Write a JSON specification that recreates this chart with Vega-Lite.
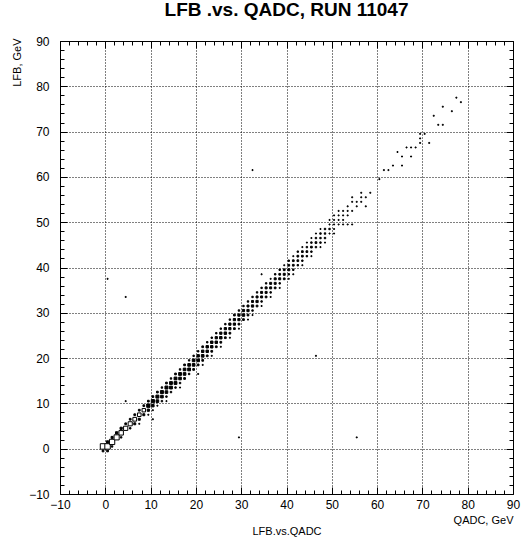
{
  "$schema": "https://vega.github.io/schema/vega-lite/v6.json",
  "width": 453,
  "height": 453,
  "autosize": {"type": "none"},
  "padding": {"left": 60, "top": 41, "right": 9, "bottom": 47},
  "background": "white",
  "title": {"text": "LFB .vs. QADC, RUN 11047", "font": "Liberation Sans", "fontSize": 19, "fontWeight": "bold", "color": "black", "anchor": "middle", "baseline": "alphabetic", "offset": 0},
  "config": {
    "view": {"stroke": null},
    "axis": {
      "domainColor": "black",
      "domainWidth": 1,
      "tickColor": "black",
      "tickWidth": 1,
      "labelFont": "Liberation Sans",
      "labelFontSize": 12,
      "labelColor": "black",
      "titleFont": "Liberation Sans",
      "titleFontSize": 11,
      "titleFontWeight": "normal",
      "titleColor": "black",
      "labelFlush": false,
      "labelOverlap": false
    }
  },
  "data": {"values": [
    {"q":-0.5,"l":-0.5,"n":3},{"q":0.5,"l":-0.5,"n":3},
    {"q":-0.5,"l":0.5,"n":30},{"q":0.5,"l":0.5,"n":30},{"q":1.5,"l":0.5,"n":2},
    {"q":0.5,"l":1.5,"n":5},{"q":1.5,"l":1.5,"n":28},
    {"q":1.5,"l":2.5,"n":4},{"q":2.5,"l":2.5,"n":26},{"q":3.5,"l":2.5,"n":2},
    {"q":2.5,"l":3.5,"n":5},{"q":3.5,"l":3.5,"n":20},
    {"q":3.5,"l":4.5,"n":5},{"q":4.5,"l":4.5,"n":18},{"q":5.5,"l":4.5,"n":2},
    {"q":4.5,"l":5.5,"n":3},{"q":5.5,"l":5.5,"n":17},{"q":6.5,"l":5.5,"n":4},{"q":7.5,"l":5.5,"n":1},
    {"q":5.5,"l":6.5,"n":3},{"q":6.5,"l":6.5,"n":14},{"q":7.5,"l":6.5,"n":4},
    {"q":6.5,"l":7.5,"n":3},{"q":7.5,"l":7.5,"n":13},{"q":8.5,"l":7.5,"n":4},{"q":9.5,"l":7.5,"n":1},
    {"q":7.5,"l":8.5,"n":3},{"q":8.5,"l":8.5,"n":12},{"q":9.5,"l":8.5,"n":5},{"q":10.5,"l":8.5,"n":1},
    {"q":8.5,"l":9.5,"n":3},{"q":9.5,"l":9.5,"n":11},{"q":10.5,"l":9.5,"n":6},{"q":11.5,"l":9.5,"n":1},
    {"q":9.5,"l":10.5,"n":3},{"q":10.5,"l":10.5,"n":10},{"q":11.5,"l":10.5,"n":7},{"q":12.5,"l":10.5,"n":2},{"q":13.5,"l":10.5,"n":1},
    {"q":10.5,"l":11.5,"n":3},{"q":11.5,"l":11.5,"n":9},{"q":12.5,"l":11.5,"n":7},{"q":13.5,"l":11.5,"n":2},
    {"q":11.5,"l":12.5,"n":3},{"q":12.5,"l":12.5,"n":9},{"q":13.5,"l":12.5,"n":7},{"q":14.5,"l":12.5,"n":2},
    {"q":12.5,"l":13.5,"n":2},{"q":13.5,"l":13.5,"n":9},{"q":14.5,"l":13.5,"n":8},{"q":15.5,"l":13.5,"n":2},{"q":16.5,"l":13.5,"n":1},
    {"q":13.5,"l":14.5,"n":3},{"q":14.5,"l":14.5,"n":8},{"q":15.5,"l":14.5,"n":8},{"q":16.5,"l":14.5,"n":2},
    {"q":14.5,"l":15.5,"n":2},{"q":15.5,"l":15.5,"n":8},{"q":16.5,"l":15.5,"n":7},{"q":17.5,"l":15.5,"n":3},
    {"q":15.5,"l":16.5,"n":3},{"q":16.5,"l":16.5,"n":8},{"q":17.5,"l":16.5,"n":7},{"q":18.5,"l":16.5,"n":2},
    {"q":16.5,"l":17.5,"n":2},{"q":17.5,"l":17.5,"n":7},{"q":18.5,"l":17.5,"n":8},{"q":19.5,"l":17.5,"n":3},
    {"q":17.5,"l":18.5,"n":3},{"q":18.5,"l":18.5,"n":7},{"q":19.5,"l":18.5,"n":7},{"q":20.5,"l":18.5,"n":3},{"q":21.5,"l":18.5,"n":1},
    {"q":18.5,"l":19.5,"n":2},{"q":19.5,"l":19.5,"n":7},{"q":20.5,"l":19.5,"n":7},{"q":21.5,"l":19.5,"n":3},
    {"q":19.5,"l":20.5,"n":2},{"q":20.5,"l":20.5,"n":6},{"q":21.5,"l":20.5,"n":7},{"q":22.5,"l":20.5,"n":3},{"q":23.5,"l":20.5,"n":1},
    {"q":20.5,"l":21.5,"n":2},{"q":21.5,"l":21.5,"n":6},{"q":22.5,"l":21.5,"n":6},{"q":23.5,"l":21.5,"n":3},
    {"q":21.5,"l":22.5,"n":3},{"q":22.5,"l":22.5,"n":6},{"q":23.5,"l":22.5,"n":6},{"q":24.5,"l":22.5,"n":3},{"q":25.5,"l":22.5,"n":1},
    {"q":22.5,"l":23.5,"n":2},{"q":23.5,"l":23.5,"n":6},{"q":24.5,"l":23.5,"n":6},{"q":25.5,"l":23.5,"n":3},
    {"q":23.5,"l":24.5,"n":2},{"q":24.5,"l":24.5,"n":5},{"q":25.5,"l":24.5,"n":6},{"q":26.5,"l":24.5,"n":3},{"q":27.5,"l":24.5,"n":1},
    {"q":24.5,"l":25.5,"n":2},{"q":25.5,"l":25.5,"n":5},{"q":26.5,"l":25.5,"n":6},{"q":27.5,"l":25.5,"n":3},
    {"q":25.5,"l":26.5,"n":2},{"q":26.5,"l":26.5,"n":5},{"q":27.5,"l":26.5,"n":5},{"q":28.5,"l":26.5,"n":3},{"q":29.5,"l":26.5,"n":1},
    {"q":26.5,"l":27.5,"n":2},{"q":27.5,"l":27.5,"n":5},{"q":28.5,"l":27.5,"n":5},{"q":29.5,"l":27.5,"n":3},
    {"q":27.5,"l":28.5,"n":2},{"q":28.5,"l":28.5,"n":5},{"q":29.5,"l":28.5,"n":5},{"q":30.5,"l":28.5,"n":3},{"q":31.5,"l":28.5,"n":1},
    {"q":28.5,"l":29.5,"n":3},{"q":29.5,"l":29.5,"n":5},{"q":30.5,"l":29.5,"n":6},{"q":31.5,"l":29.5,"n":3},{"q":32.5,"l":29.5,"n":1},
    {"q":29.5,"l":30.5,"n":2},{"q":30.5,"l":30.5,"n":5},{"q":31.5,"l":30.5,"n":5},{"q":32.5,"l":30.5,"n":2},
    {"q":30.5,"l":31.5,"n":2},{"q":31.5,"l":31.5,"n":4},{"q":32.5,"l":31.5,"n":5},{"q":33.5,"l":31.5,"n":3},{"q":34.5,"l":31.5,"n":1},
    {"q":31.5,"l":32.5,"n":2},{"q":32.5,"l":32.5,"n":4},{"q":33.5,"l":32.5,"n":5},{"q":34.5,"l":32.5,"n":2},
    {"q":32.5,"l":33.5,"n":2},{"q":33.5,"l":33.5,"n":4},{"q":34.5,"l":33.5,"n":4},{"q":35.5,"l":33.5,"n":3},{"q":36.5,"l":33.5,"n":1},
    {"q":33.5,"l":34.5,"n":2},{"q":34.5,"l":34.5,"n":4},{"q":35.5,"l":34.5,"n":4},{"q":36.5,"l":34.5,"n":2},
    {"q":34.5,"l":35.5,"n":2},{"q":35.5,"l":35.5,"n":4},{"q":36.5,"l":35.5,"n":4},{"q":37.5,"l":35.5,"n":3},{"q":38.5,"l":35.5,"n":1},
    {"q":35.5,"l":36.5,"n":2},{"q":36.5,"l":36.5,"n":4},{"q":37.5,"l":36.5,"n":4},{"q":38.5,"l":36.5,"n":2},
    {"q":36.5,"l":37.5,"n":1},{"q":37.5,"l":37.5,"n":4},{"q":38.5,"l":37.5,"n":4},{"q":39.5,"l":37.5,"n":3},{"q":40.5,"l":37.5,"n":1},
    {"q":37.5,"l":38.5,"n":2},{"q":38.5,"l":38.5,"n":3},{"q":39.5,"l":38.5,"n":4},{"q":40.5,"l":38.5,"n":2},{"q":41.5,"l":38.5,"n":1},
    {"q":38.5,"l":39.5,"n":2},{"q":39.5,"l":39.5,"n":3},{"q":40.5,"l":39.5,"n":4},{"q":41.5,"l":39.5,"n":2},
    {"q":39.5,"l":40.5,"n":1},{"q":40.5,"l":40.5,"n":3},{"q":41.5,"l":40.5,"n":3},{"q":42.5,"l":40.5,"n":2},{"q":43.5,"l":40.5,"n":1},
    {"q":40.5,"l":41.5,"n":2},{"q":41.5,"l":41.5,"n":3},{"q":42.5,"l":41.5,"n":3},{"q":43.5,"l":41.5,"n":2},
    {"q":41.5,"l":42.5,"n":1},{"q":42.5,"l":42.5,"n":3},{"q":43.5,"l":42.5,"n":3},{"q":44.5,"l":42.5,"n":2},{"q":45.5,"l":42.5,"n":1},
    {"q":42.5,"l":43.5,"n":2},{"q":43.5,"l":43.5,"n":3},{"q":44.5,"l":43.5,"n":3},{"q":45.5,"l":43.5,"n":2},
    {"q":43.5,"l":44.5,"n":1},{"q":44.5,"l":44.5,"n":2},{"q":45.5,"l":44.5,"n":3},{"q":46.5,"l":44.5,"n":2},{"q":47.5,"l":44.5,"n":1},
    {"q":44.5,"l":45.5,"n":1},{"q":45.5,"l":45.5,"n":2},{"q":46.5,"l":45.5,"n":3},{"q":47.5,"l":45.5,"n":2},{"q":48.5,"l":45.5,"n":1},
    {"q":45.5,"l":46.5,"n":1},{"q":46.5,"l":46.5,"n":2},{"q":47.5,"l":46.5,"n":2},{"q":48.5,"l":46.5,"n":2},
    {"q":46.5,"l":47.5,"n":1},{"q":47.5,"l":47.5,"n":2},{"q":48.5,"l":47.5,"n":2},{"q":49.5,"l":47.5,"n":1},{"q":50.5,"l":47.5,"n":1},
    {"q":47.5,"l":48.5,"n":1},{"q":48.5,"l":48.5,"n":2},{"q":49.5,"l":48.5,"n":2},{"q":50.5,"l":48.5,"n":1},
    {"q":49.5,"l":49.5,"n":1},{"q":50.5,"l":49.5,"n":1},{"q":51.5,"l":49.5,"n":1},{"q":52.5,"l":49.5,"n":1},{"q":53.5,"l":49.5,"n":1},{"q":54.5,"l":49.5,"n":1},
    {"q":49.5,"l":50.5,"n":1},{"q":50.5,"l":50.5,"n":1},{"q":51.5,"l":50.5,"n":1},{"q":52.5,"l":50.5,"n":1},
    {"q":50.5,"l":51.5,"n":1},{"q":51.5,"l":51.5,"n":1},{"q":52.5,"l":51.5,"n":1},{"q":53.5,"l":51.5,"n":1},
    {"q":51.5,"l":52.5,"n":1},{"q":52.5,"l":52.5,"n":1},{"q":53.5,"l":52.5,"n":1},{"q":54.5,"l":52.5,"n":1},
    {"q":53.5,"l":53.5,"n":1},{"q":55.5,"l":53.5,"n":1},{"q":57.5,"l":53.5,"n":1},
    {"q":54.5,"l":54.5,"n":1},{"q":55.5,"l":54.5,"n":1},{"q":56.5,"l":54.5,"n":1},
    {"q":54.5,"l":55.5,"n":1},{"q":56.5,"l":55.5,"n":1},{"q":57.5,"l":55.5,"n":1},
    {"q":56.5,"l":56.5,"n":1},{"q":58.5,"l":56.5,"n":1},
    {"q":60.5,"l":59.5,"n":1},
    {"q":61.5,"l":61.5,"n":1},{"q":62.5,"l":61.5,"n":1},
    {"q":63.5,"l":62.5,"n":1},{"q":65.5,"l":62.5,"n":1},
    {"q":65.5,"l":64.5,"n":1},{"q":67.5,"l":64.5,"n":1},
    {"q":64.5,"l":65.5,"n":1},
    {"q":66.5,"l":66.5,"n":1},{"q":67.5,"l":66.5,"n":1},{"q":68.5,"l":66.5,"n":1},
    {"q":69.5,"l":67.5,"n":1},{"q":71.5,"l":67.5,"n":1},
    {"q":69.5,"l":68.5,"n":1},
    {"q":69.5,"l":69.5,"n":1},{"q":70.5,"l":69.5,"n":1},
    {"q":73.5,"l":71.5,"n":1},{"q":74.5,"l":71.5,"n":1},
    {"q":72.5,"l":73.5,"n":1},
    {"q":76.5,"l":74.5,"n":1},
    {"q":74.5,"l":75.5,"n":1},
    {"q":78.5,"l":76.5,"n":1},
    {"q":77.5,"l":77.5,"n":1},
    {"q":0.5,"l":37.5,"n":1},{"q":4.5,"l":33.5,"n":1},{"q":4.5,"l":10.5,"n":1},{"q":10.5,"l":6.5,"n":1},
    {"q":20.5,"l":16.5,"n":1},{"q":29.5,"l":2.5,"n":1},{"q":55.5,"l":2.5,"n":1},{"q":46.5,"l":20.5,"n":1},
    {"q":32.5,"l":61.5,"n":1},{"q":34.5,"l":38.5,"n":1}
  ]},
  "layer": [
    {
      "mark": {"type": "square", "stroke": "black", "strokeWidth": 1, "opacity": 1},
      "encoding": {
        "x": {"field": "q", "type": "quantitative",
          "scale": {"domain": [-10, 90], "nice": false, "zero": false},
          "axis": {"orient": "bottom",
            "values": [-10,-8,-6,-4,-2,0,2,4,6,8,10,12,14,16,18,20,22,24,26,28,30,32,34,36,38,40,42,44,46,48,50,52,54,56,58,60,62,64,66,68,70,72,74,76,78,80,82,84,86,88,90],
            "labelExpr": "datum.value % 10 === 0 ? datum.label : ''",
            "tickSize": {"condition": {"test": "datum.value % 10 === 0", "value": -7}, "value": -4},
            "grid": true, "gridColor": "black", "gridDash": [1, 2], "gridWidth": 1,
            "gridOpacity": {"condition": {"test": "datum.value % 10 === 0", "value": 1}, "value": 0},
            "labelPadding": 12,
            "title": "QADC, GeV", "titleAnchor": "end", "titleAlign": "right", "titleBaseline": "middle", "titleX": 453, "titleY": 26}},
        "y": {"field": "l", "type": "quantitative",
          "scale": {"domain": [-10, 90], "nice": false, "zero": false},
          "axis": {"orient": "left",
            "values": [-10,-8,-6,-4,-2,0,2,4,6,8,10,12,14,16,18,20,22,24,26,28,30,32,34,36,38,40,42,44,46,48,50,52,54,56,58,60,62,64,66,68,70,72,74,76,78,80,82,84,86,88,90],
            "labelExpr": "datum.value % 10 === 0 ? datum.label : ''",
            "tickSize": {"condition": {"test": "datum.value % 10 === 0", "value": -7}, "value": -4},
            "grid": true, "gridColor": "black", "gridDash": [1, 2], "gridWidth": 1,
            "gridOpacity": {"condition": {"test": "datum.value % 10 === 0", "value": 1}, "value": 0},
            "labelPadding": 18,
            "title": "LFB, GeV", "titleAnchor": "end", "titleAlign": "right", "titleBaseline": "middle", "titleAngle": -90, "titleX": -43, "titleY": -3}},
        "size": {"field": "n", "type": "quantitative", "scale": {"type": "linear", "domain": [1, 30], "range": [1, 30]}, "legend": null},
        "fill": {"condition": {"test": "datum.n >= 12", "value": "white"}, "value": "black"}
      }
    },
    {
      "mark": {"type": "point", "opacity": 0},
      "encoding": {
        "x": {"field": "q", "type": "quantitative",
          "axis": {"orient": "top",
            "values": [-10,-8,-6,-4,-2,0,2,4,6,8,10,12,14,16,18,20,22,24,26,28,30,32,34,36,38,40,42,44,46,48,50,52,54,56,58,60,62,64,66,68,70,72,74,76,78,80,82,84,86,88,90],
            "labels": false, "grid": false, "title": null,
            "tickSize": {"condition": {"test": "datum.value % 10 === 0", "value": -7}, "value": -4}}},
        "y": {"field": "l", "type": "quantitative",
          "axis": {"orient": "right",
            "values": [-10,-8,-6,-4,-2,0,2,4,6,8,10,12,14,16,18,20,22,24,26,28,30,32,34,36,38,40,42,44,46,48,50,52,54,56,58,60,62,64,66,68,70,72,74,76,78,80,82,84,86,88,90],
            "labels": false, "grid": false, "title": null,
            "tickSize": {"condition": {"test": "datum.value % 10 === 0", "value": -7}, "value": -4}}}
      }
    },
    {
      "mark": {"type": "point", "opacity": 0},
      "encoding": {
        "x": {"field": "q", "type": "quantitative",
          "axis": {"orient": "bottom", "domain": false, "ticks": false, "labels": false, "grid": false,
            "title": "LFB.vs.QADC", "titleAnchor": "middle", "titleAlign": "center", "titleBaseline": "middle", "titleX": 226.5, "titleY": 37}},
        "y": {"field": "l", "type": "quantitative", "axis": null}
      }
    }
  ],
  "resolve": {"axis": {"x": "independent", "y": "independent"}}
}
